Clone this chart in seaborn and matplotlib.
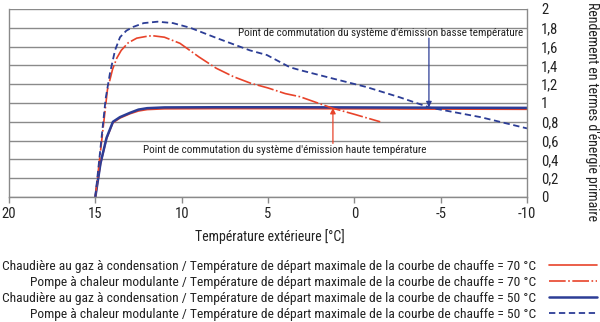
import matplotlib
matplotlib.use("Agg")
import matplotlib.pyplot as plt
import seaborn as sns
import pandas as pd

# Outdoor temperature (°C) and primary-energy efficiency of each system
boiler70_t = [15, 14.7, 14.35, 13.98, 13.57, 13.0, 12.5, 12.0, 11.0, 8.0, 4.0, 0.0, -5.0, -10.0]
boiler70_v = [0.0, 0.35, 0.62, 0.79, 0.84, 0.885, 0.915, 0.93, 0.938, 0.94, 0.94, 0.938, 0.935, 0.933]

boiler50_t = [15, 14.7, 14.35, 13.98, 13.57, 13.0, 12.5, 12.0, 11.0, 8.0, 4.0, 0.0, -5.0, -10.0]
boiler50_v = [0.0, 0.36, 0.63, 0.80, 0.85, 0.895, 0.93, 0.945, 0.953, 0.955, 0.955, 0.953, 0.95, 0.948]

hp70_t = [15, 14.6, 14.3, 14.0, 13.75, 13.5, 13.1, 12.6, 12.0, 11.7, 11.0, 10.1, 9.0, 8.0, 7.0,
          6.0, 5.0, 4.0, 3.15, 1.3, 0.0, -1.5]
hp70_v = [0.0, 0.65, 1.14, 1.36, 1.48, 1.56, 1.64, 1.69, 1.71, 1.716, 1.70, 1.635, 1.49, 1.37, 1.28,
          1.21, 1.16, 1.10, 1.067, 0.947, 0.88, 0.80]

hp50_t = [15, 14.6, 14.4, 14.15, 13.86, 13.57, 13.2, 12.8, 12.2, 11.4, 10.5, 9.5, 8.94, 7.96,
          6.05, 5.06, 3.73, 3.15, 1.24, -0.7, -2.64, -4.4, -7.3, -10.0]
hp50_v = [0.0, 0.70, 1.05, 1.32, 1.56, 1.70, 1.77, 1.81, 1.85, 1.865, 1.85, 1.80, 1.76, 1.69,
          1.56, 1.51, 1.38, 1.35, 1.26, 1.17, 1.06, 0.95, 0.85, 0.73]

series_labels = [
    "Chaudière au gaz à condensation / Température de départ maximale de la courbe de chauffe = 70 °C",
    "Pompe à chaleur modulante / Température de départ maximale de la courbe de chauffe = 70 °C",
    "Chaudière au gaz à condensation / Température de départ maximale de la courbe de chauffe = 50 °C",
    "Pompe à chaleur modulante / Température de départ maximale de la courbe de chauffe = 50 °C",
]

x_ticks = [20, 15, 10, 5, 0, -5, -10]
x_tick_labels = ["20", "15", "10", "5", "0", "-5", "-10"]
y_ticks = [0, 0.2, 0.4, 0.6, 0.8, 1.0, 1.2, 1.4, 1.6, 1.8, 2.0]
y_tick_labels = ["0", "0,2", "0,4", "0,6", "0,8", "1", "1,2", "1,4", "1,6", "1,8", "2"]

# Switching points (temperature, efficiency)
switch_low = (-4.32, 0.955)
switch_high = (1.24, 0.947)

RED = "#e8432a"
BLUE = "#2c3d96"
GRID = "#8a8a8a"
INK = "#222222"

sns.set_theme(style="white")
plt.rcParams["font.family"] = ["Roboto Condensed", "DejaVu Sans"]

fig = plt.figure(figsize=(6.0, 3.22), dpi=100)
ax = fig.add_axes([9 / 600, 1 - 197 / 322, 518 / 600, 188 / 322])

styles = [
    dict(color=RED, lw=1.2, linestyle="-"),
    dict(color=RED, lw=1.2, linestyle=(0, (10, 1.5, 1, 1.5))),
    dict(color=BLUE, lw=1.8, linestyle="-"),
    dict(color=BLUE, lw=1.3, linestyle=(0, (3.5, 2))),
]
data = [(boiler70_t, boiler70_v), (hp70_t, hp70_v), (boiler50_t, boiler50_v), (hp50_t, hp50_v)]
order = [0, 2, 1, 3]
handles = [None] * 4
for i in order:
    t, v = data[i]
    df = pd.DataFrame({"t": t, "v": v})
    sns.lineplot(data=df, x="t", y="v", ax=ax, sort=False, label=series_labels[i], **styles[i])
    handles[i] = ax.get_lines()[-1]

ax.set_xlim(20, -10)
ax.set_ylim(0, 2)
ax.set_xticks(x_ticks)
ax.set_xticklabels(x_tick_labels)
ax.set_yticks(y_ticks)
ax.set_yticklabels(y_tick_labels)
ax.yaxis.tick_right()
ax.grid(axis="y", color=GRID, lw=1.0)
ax.grid(axis="x", visible=False)
for side in ["left", "right", "bottom"]:
    ax.spines[side].set_color(GRID)
    ax.spines[side].set_linewidth(1.0)
ax.spines["top"].set_visible(False)
ax.tick_params(axis="x", bottom=True, length=4, width=1, color=GRID, pad=3,
               labelsize=10.5, labelcolor=INK)
ax.tick_params(axis="y", right=True, left=False, length=0, pad=10,
               labelsize=10.5, labelcolor=INK)

ax.set_xlabel("Température extérieure [°C]", fontsize=10, color=INK, va="center")
ax.xaxis.set_label_coords((270 - 9) / 518, (197 - 237) / 188)
ax.yaxis.set_label_position("right")
ax.set_ylabel("Rendement en termes d'énergie primaire", fontsize=10, color=INK,
              rotation=-90, va="center", ha="center")
ax.yaxis.set_label_coords((592 - 9) / 518, (197 - 112) / 188)

# Switching point annotations
ax.text(-9.77, 1.745, "Point de commutation du système d'émission basse température",
        ha="right", va="center", fontsize=8.0, color=INK)
ax.annotate("", xy=switch_low, xytext=(switch_low[0], 1.69),
            arrowprops=dict(arrowstyle="-|>", color=BLUE, lw=0.9, mutation_scale=8,
                            shrinkA=0, shrinkB=0))
ax.text(-4.2, 0.50, "Point de commutation du système d'émission haute température",
        ha="right", va="center", fontsize=8.0, color=INK)
ax.annotate("", xy=switch_high, xytext=(switch_high[0], 0.57),
            arrowprops=dict(arrowstyle="-|>", color=RED, lw=0.9, mutation_scale=8,
                            shrinkA=0, shrinkB=0))

leg = ax.legend(handles=handles, labels=series_labels, loc="upper right",
                bbox_to_anchor=(597 / 600, 1 - 260 / 322), bbox_transform=fig.transFigure,
                frameon=False, markerfirst=False, fontsize=9.7, handlelength=3.6,
                handletextpad=0.9, labelspacing=0.22, borderpad=0, borderaxespad=0)
for txt in leg.get_texts():
    txt.set_color(INK)

fig.savefig("out.png", dpi=100)
